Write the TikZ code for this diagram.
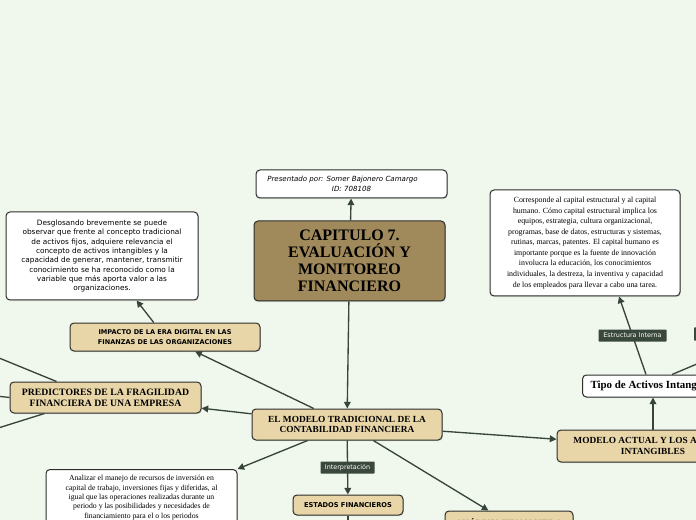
\documentclass[tikz,border=0pt]{standalone}
\usepackage{fontspec}
\setmainfont{Liberation Serif}
\newfontfamily\sansf{DejaVu Sans}
\usetikzlibrary{arrows.meta,shadows,calc}
\definecolor{bgc}{RGB}{240,248,238}
\definecolor{tan}{RGB}{233,214,168}
\definecolor{brownc}{RGB}{160,137,90}
\definecolor{edgec}{RGB}{45,45,45}
\definecolor{linec}{RGB}{55,68,57}
\definecolor{labc}{RGB}{58,72,60}
\begin{document}
\begin{tikzpicture}[x=0.75pt,y=-0.75pt,
  base/.style={draw=edgec, line width=0.75pt, rounded corners=3pt, align=center, inner sep=0pt,
    drop shadow={shadow xshift=0.6pt, shadow yshift=-0.8pt, opacity=0.25}},
  wbox/.style={base, fill=white},
  tbox/.style={base, fill=tan},
  bbox/.style={base, fill=brownc},
  lab/.style={fill=labc, text=white, inner sep=0pt, rounded corners=0.5pt, font=\fontsize{4.8}{5.5}\selectfont\sansf},
  conn/.style={draw=linec, line width=1pt, -{Triangle[length=5pt,width=5pt]}},
  plain/.style={draw=linec, line width=1pt}
]
\useasboundingbox (0,0) rectangle (696,520);
\fill[bgc] (0,0) rectangle (696,520);
\clip (0,0) rectangle (696,520);

% nodes
\node[wbox, minimum width=143.25pt, minimum height=21pt, font=\fontsize{5.3}{7}\selectfont\sansf\itshape] (pres) at (351.5,184)
  {Presentado por: Somer Bajonero Camargo\hspace*{13.5pt}\\ID: 708108};
\node[bbox, minimum width=143.25pt, minimum height=60pt, font=\fontsize{12}{12.75}\selectfont\bfseries] (cap) at (349.5,261)
  {CAPITULO 7.\\EVALUACIÓN Y\\MONITOREO\\FINANCIERO};
\node[wbox, minimum width=144pt, minimum height=66pt, font=\fontsize{5.5}{7}\selectfont\sansf] (desg) at (102,256)
  {Desglosando brevemente se puede\\observar que frente al concepto tradicional\\de activos fijos, adquiere relevancia el\\concepto de activos intangibles y la\\capacidad de generar, mantener, transmitir\\conocimiento se ha reconocido como la\\variable que más aporta valor a las\\organizaciones.};
\node[tbox, minimum width=142.5pt, minimum height=21pt, font=\fontsize{4.9}{7}\selectfont\sansf\bfseries] (imp) at (165,337)
  {IMPACTO DE LA ERA DIGITAL EN LAS\\FINANZAS DE LAS ORGANIZACIONES};
\node[tbox, minimum width=143.25pt, minimum height=23.25pt, font=\fontsize{7.3}{8}\selectfont\bfseries] (pred) at (105.5,397.5)
  {PREDICTORES DE LA FRAGILIDAD\\FINANCIERA DE UNA EMPRESA};
\node[tbox, minimum width=142.5pt, minimum height=23.25pt, font=\fontsize{7}{8}\selectfont\bfseries] (trad) at (347,424.5)
  {EL MODELO TRADICIONAL DE LA\\CONTABILIDAD FINANCIERA};
\node[tbox, minimum width=82.5pt, minimum height=15pt, font=\fontsize{5}{6}\selectfont\sansf\bfseries] (est) at (348,505)
  {ESTADOS FINANCIEROS};
\node[tbox, minimum width=96pt, minimum height=18pt, font=\fontsize{7}{8}\selectfont\bfseries] (anal) at (509,523)
  {ANÁLISIS FINANCIERO};
\node[wbox, anchor=north, minimum width=143.25pt, inner ysep=4.5pt, font=\fontsize{5.8}{7}\selectfont] (analiz) at (141.5,469)
  {Analizar el manejo de recursos de inversión en\\capital de trabajo, inversiones fijas y diferidas, al\\igual que las operaciones realizadas durante un\\periodo y las posibilidades y necesidades de\\financiamiento para el o los periodos\\siguientes.};
\node[tbox, minimum width=144pt, minimum height=24pt, font=\fontsize{7}{8}\selectfont\bfseries] (mact) at (653,446)
  {MODELO ACTUAL Y LOS ACTIVOS\\INTANGIBLES};
\node[wbox, anchor=west, inner xsep=6pt, minimum height=16.5pt, font=\fontsize{8.2}{9}\selectfont\bfseries] (tipo) at (582,386)
  {Tipo de Activos Intangibles};
\node[wbox, minimum width=142.5pt, minimum height=79.5pt, font=\fontsize{5.9}{7.9}\selectfont] (corr) at (585,243)
  {Corresponde al capital estructural y al capital\\humano. Cómo capital estructural implica los\\equipos, estrategia, cultura organizacional,\\programas, base de datos, estructuras y sistemas,\\rutinas, marcas, patentes. El capital humano es\\importante porque es la fuente de innovación\\involucra la educación, los conocimientos\\individuales, la destreza, la inventiva y capacidad\\de los empleados para llevar a cabo una tarea.};
\node[lab, minimum width=16.5pt, minimum height=10pt] (labr) at (705,334) {};

% free ends
\coordinate (pl1) at (-40,342);
\coordinate (pl2) at (-30,393);
\coordinate (pl3) at (-40,440);
\coordinate (tr1) at (730,350);
\coordinate (eb) at (348,540);

% connectors
\draw[conn] (cap) -- (pres);
\draw[conn] (cap) -- (trad);
\draw[conn] (imp) -- (desg);
\draw[conn] (trad) -- (imp);
\draw[conn] (trad) -- (pred);
\draw[conn] (trad) -- (analiz.north east);
\draw[conn] (trad) -- (est) node[lab, pos=0.5, minimum width=40.5pt, minimum height=9pt] (interp) {Interpretación};
\draw[conn] (trad) -- (anal);
\draw[conn] (trad) -- (mact);
\draw[conn] (mact.north) -- (mact.north |- tipo.south);
\draw[conn] ($(tipo.north west)+(64,0)$) -- ($(corr.south)+(34,0)$)
  node[lab, pos=0.5, minimum width=51pt, minimum height=9pt] (estint) {Estructura Interna};
\draw[plain] ($(tipo.north west)+(90,0)$) -- (tr1);
\draw[plain] (est) -- (eb);
\draw[plain] ($(pred.north west)+(47,0)$) -- (pl1);
\draw[plain] (pred.west) -- (pl2);
\draw[plain] ($(pred.south west)+(35,0)$) -- (pl3);
\end{tikzpicture}
\end{document}
